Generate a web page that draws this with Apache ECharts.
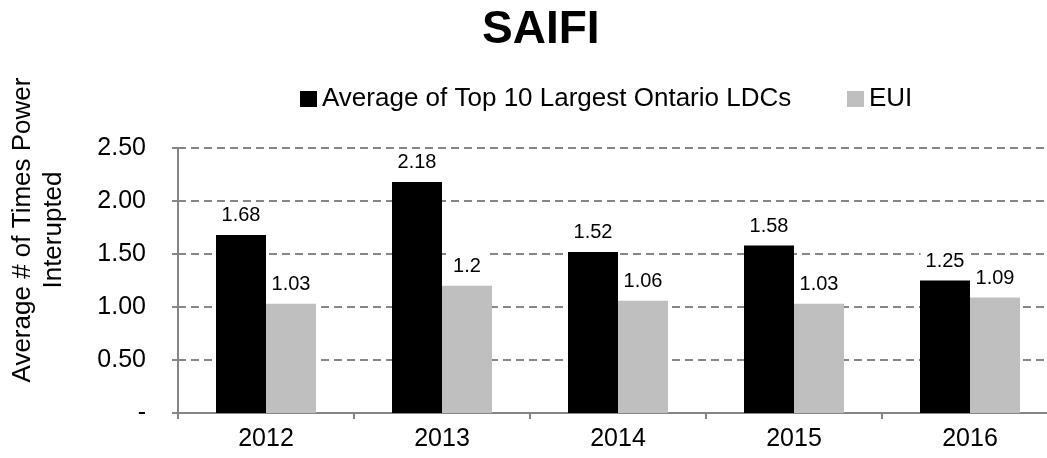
<!DOCTYPE html>
<html>
<head>
<meta charset="utf-8">
<script src="https://cdn.jsdelivr.net/npm/echarts@6/dist/echarts.min.js"></script>
<style>
  html, body { margin: 0; padding: 0; background: #fff; }
  #main { width: 1047px; height: 458px; }
</style>
</head>
<body>
<div id="main"></div>
<script>
var years = ['2012', '2013', '2014', '2015', '2016'];
var top10Avg = [1.68, 2.18, 1.52, 1.58, 1.25];
var euiVals = [1.03, 1.2, 1.06, 1.03, 1.09];
var yTicks = { 0: '-', 0.5: '0.50', 1: '1.00', 1.5: '1.50', 2: '2.00', 2.5: '2.50' };
var seriesNames = ['Average of Top 10 Largest Ontario LDCs', 'EUI'];

var myChart = echarts.init(document.getElementById('main'));
var fontFam = 'Liberation Sans, Arial, sans-serif';
var gridGrey = '#868686';

// data labels sit on a white box, so gridlines break behind them
var labelStyle = {
    show: true,
    position: 'top',
    distance: 5,
    color: '#000',
    fontSize: 20,
    fontFamily: fontFam,
    backgroundColor: '#fff',
    padding: [4, 5]
};

var legendText = { fontSize: 26, color: '#000', fontFamily: fontFam };

var option = {
    animation: false,
    backgroundColor: '#fff',
    title: {
        text: 'SAIFI',
        left: 477,
        top: 2,
        textStyle: { fontSize: 46, fontWeight: 'bold', color: '#000', fontFamily: fontFam }
    },
    legend: [{
        left: 295,
        top: 81,
        itemWidth: 17,
        itemHeight: 16,
        itemGap: 0,
        icon: 'rect',
        textStyle: legendText,
        data: [seriesNames[0]]
    }, {
        left: 842,
        top: 81,
        itemWidth: 17,
        itemHeight: 16,
        icon: 'rect',
        textStyle: legendText,
        data: [seriesNames[1]]
    }],
    // the plot runs past the right edge of the picture, as in the source
    grid: { left: 178, top: 148, width: 880, height: 265, containLabel: false, outerBoundsMode: 'none' },
    xAxis: {
        type: 'category',
        data: years,
        axisLine: { lineStyle: { color: gridGrey, width: 2 } },
        axisTick: { show: true, length: 6, lineStyle: { color: gridGrey, width: 2 } },
        axisLabel: { color: '#000', fontSize: 25, fontFamily: fontFam, margin: 14 }
    },
    yAxis: {
        type: 'value',
        min: 0,
        max: 2.5,
        interval: 0.5,
        axisLine: { show: true, lineStyle: { color: gridGrey, width: 2 } },
        axisTick: { show: true, length: 6, lineStyle: { color: gridGrey, width: 2 } },
        axisLabel: {
            color: '#000', fontSize: 25, fontFamily: fontFam, margin: 32,
            formatter: function (v) { return yTicks[v]; }
        },
        splitLine: { show: true, lineStyle: { color: gridGrey, width: 2, type: [8, 5] } }
    },
    graphic: [{
        type: 'text',
        x: 38,
        y: 230,
        rotation: Math.PI / 2,
        style: {
            text: 'Average # of Times Power\nInterupted',
            fontSize: 26,
            fontFamily: fontFam,
            fill: '#000',
            align: 'center',
            verticalAlign: 'middle',
            lineHeight: 31
        }
    }],
    series: [
        {
            name: seriesNames[0],
            type: 'bar',
            data: top10Avg,
            barWidth: 50,
            barGap: '0%',
            itemStyle: { color: '#000' },
            label: labelStyle
        },
        {
            name: seriesNames[1],
            type: 'bar',
            data: euiVals,
            barWidth: 50,
            itemStyle: { color: '#bfbfbf' },
            label: labelStyle
        }
    ]
};
myChart.setOption(option);
</script>
</body>
</html>
